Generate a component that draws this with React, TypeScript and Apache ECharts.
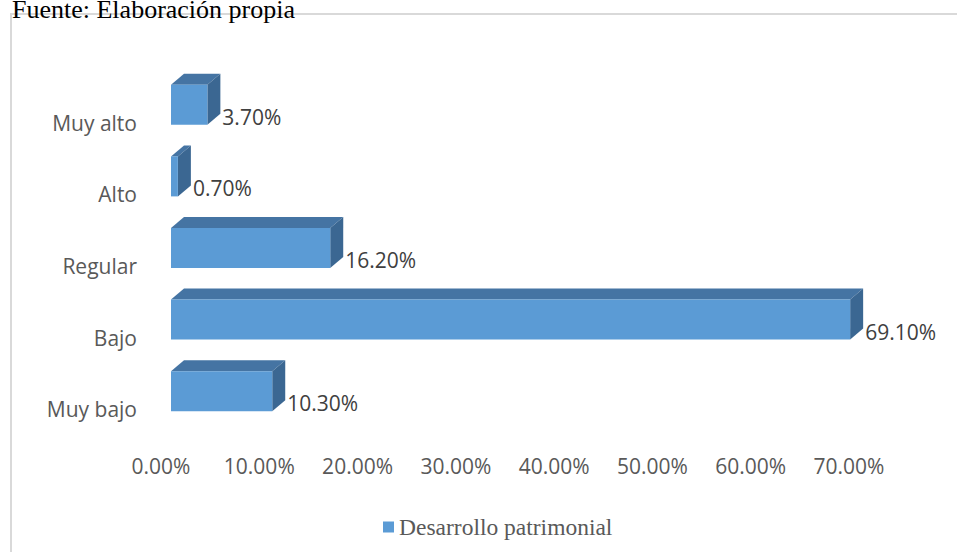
import React, { useEffect, useRef } from "react";
import * as echarts from "echarts";

const categories = ["Muy bajo", "Bajo", "Regular", "Alto", "Muy alto"];
const values = [10.3, 69.1, 16.2, 0.7, 3.7];
const seriesName = "Desarrollo patrimonial";
const titleText = "Fuente: Elaboración propia";

const FRONT = "#5b9bd5";
const TOP = "#4574a3";
const SIDE = "#3b6792";
const DX = 13;
const DY = 11;
const BAR_H = 40;

export default function App() {
  const ref = useRef<HTMLDivElement>(null);
  useEffect(() => {
    document.body.style.margin = "0";
    const chart = echarts.init(ref.current!, null, { renderer: "svg" });
    const option: any = {
      animation: false,
      backgroundColor: "#ffffff",
      grid: { left: 171, right: 98, top: 69, bottom: 125 },
      legend: {
        left: 378,
        top: 510,
        data: [{ name: seriesName, icon: "rect", itemStyle: { color: FRONT } }],
        itemWidth: 11,
        itemHeight: 11,
        itemGap: 6,
        textStyle: { fontFamily: "Liberation Serif", fontSize: 23.5, color: "#595959" },
      },
      xAxis: {
        type: "value",
        min: 0,
        max: 70,
        interval: 10,
        axisLine: { show: false },
        axisTick: { show: false },
        splitLine: { show: false },
        axisLabel: {
          formatter: (v: number) => v.toFixed(2) + "%",
          fontFamily: "Open Sans",
          fontSize: 21,
          color: "#595959",
          margin: 28,
          padding: [0, 20, 0, 0],
        },
      },
      yAxis: {
        type: "category",
        data: categories,
        axisLine: { show: false },
        axisTick: { show: false },
        axisLabel: {
          fontFamily: "Open Sans",
          fontSize: 21,
          color: "#595959",
          margin: 34,
          verticalAlign: "top",
          lineHeight: 36,
        },
      },
      series: [
        {
          name: seriesName,
          type: "custom",
          itemStyle: { color: FRONT },
          encode: { x: 0, y: 1 },
          data: values.map((v, i) => [v, i]),
          renderItem: (params: any, api: any) => {
            const v = api.value(0);
            const idx = api.value(1);
            const p0 = api.coord([0, idx]);
            const p1 = api.coord([v, idx]);
            const x0 = p0[0];
            const x1 = p1[0];
            const yc = p0[1];
            const yt = yc - BAR_H / 2;
            const yb = yc + BAR_H / 2;
            return {
              type: "group",
              children: [
                {
                  type: "polygon",
                  shape: { points: [[x0, yt], [x0 + DX, yt - DY], [x1 + DX, yt - DY], [x1, yt]] },
                  style: { fill: TOP },
                },
                {
                  type: "polygon",
                  shape: { points: [[x1, yt], [x1 + DX, yt - DY], [x1 + DX, yb - DY], [x1, yb]] },
                  style: { fill: SIDE },
                },
                {
                  type: "rect",
                  shape: { x: x0, y: yt, width: x1 - x0, height: BAR_H },
                  style: { fill: FRONT },
                },
                {
                  type: "text",
                  x: x1 + DX + 2,
                  y: yc + 12,
                  style: {
                    text: v.toFixed(2) + "%",
                    fontFamily: "Open Sans",
                    fontSize: 21,
                    fill: "#404040",
                    verticalAlign: "middle",
                    align: "left",
                  },
                },
              ],
            };
          },
        },
      ],
      graphic: [
        { type: "line", shape: { x1: 10, y1: 14, x2: 957, y2: 14 }, style: { stroke: "#d9d9d9", lineWidth: 2 } },
        { type: "line", shape: { x1: 11, y1: 14, x2: 11, y2: 552 }, style: { stroke: "#d9d9d9", lineWidth: 2 } },
        {
          type: "text",
          x: 12,
          y: 9,
          z: 10,
          style: {
            text: titleText,
            fontFamily: "Liberation Serif",
            fontSize: 26,
            fill: "#000000",
            verticalAlign: "middle",
            align: "left",
          },
        },
      ],
    };
    chart.setOption(option);
    return () => chart.dispose();
  }, []);
  return <div ref={ref} style={{ width: 957, height: 552 }} />;
}
